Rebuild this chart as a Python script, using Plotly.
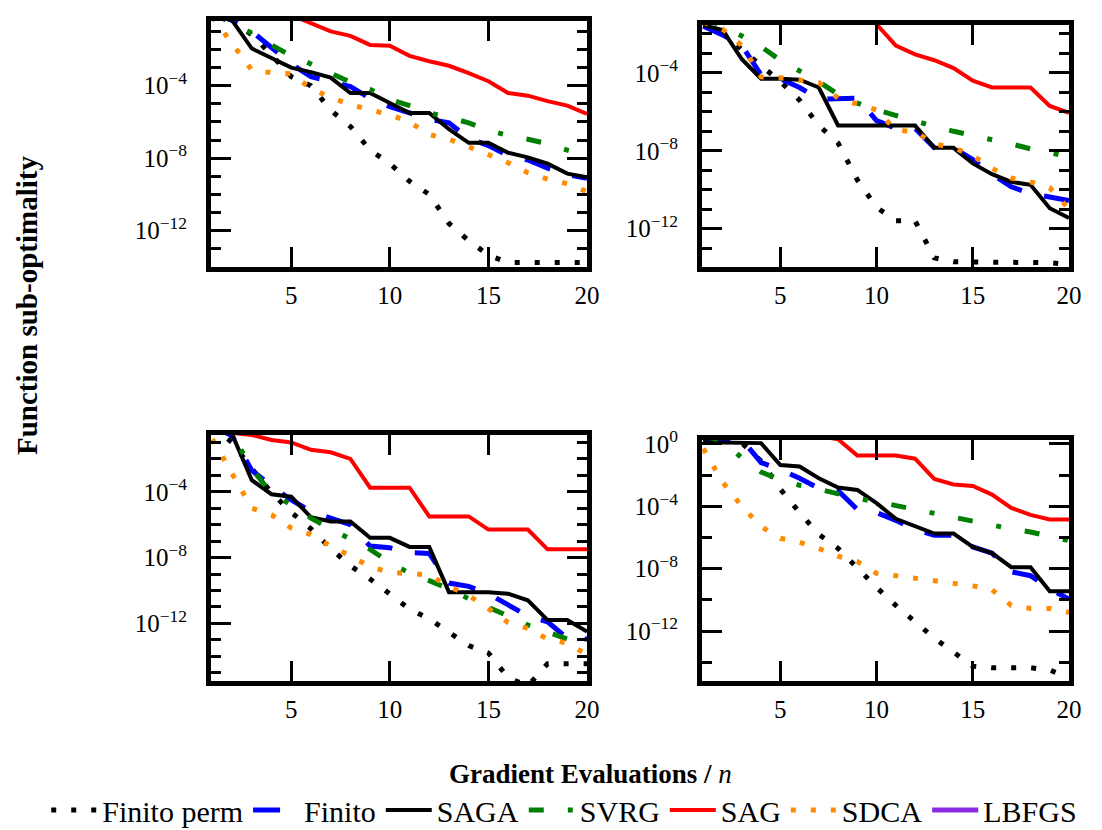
import plotly.graph_objects as go

# ---------------- data (log10 of function sub-optimality) ----------------
x_vals = list(range(1, 21))
series_names = ["Finito perm", "Finito", "SAGA", "SVRG", "SAG", "SDCA", "LBFGS"]

x_tick_vals = [5, 10, 15, 20]
x_tick_text = ["5", "10", "15", "20"]
y_tick_exps = [0, -4, -8, -12]
y_tick_text = ["10<sup>0</sup>", "10<sup>−4</sup>", "10<sup>−8</sup>", "10<sup>−12</sup>"]

# top-left panel
tl_finito_perm = [0, -0.35, -1.2, -2.3, -3.5, -4.0, -5.35, -6.25, -7.55, -8.3, -9.27, -10.0, -11.6, -12.55, -13.35, -13.75, -13.75, -13.75, -13.75, -13.75]
tl_finito = [0, -0.4, -1.0, -1.9, -2.8, -3.5, -3.75, -4.05, -4.7, -5.15, -5.5, -5.85, -6.05, -6.9, -7.3, -7.85, -8.1, -8.55, -8.9, -9.1]
tl_saga = [0, -0.4, -1.95, -2.5, -3.0, -3.25, -3.55, -4.4, -4.4, -4.95, -5.5, -5.5, -6.4, -7.15, -7.15, -7.7, -7.95, -8.3, -8.85, -9.05]
tl_svrg = [0, -0.55, -1.1, -1.75, -2.35, -2.8, -3.3, -3.8, -4.2, -4.75, -5.1, -5.5, -5.75, -6.05, -6.45, -6.75, -6.95, -7.2, -7.55, -7.85]
tl_sag = [0, 0, 0, 0, -0.1, -0.55, -1.0, -1.25, -1.75, -1.8, -2.35, -2.65, -2.9, -3.3, -3.75, -4.4, -4.55, -4.85, -5.1, -5.55]
tl_sdca = [-0.2, -1.65, -3.14, -3.28, -3.35, -4.15, -4.65, -5.05, -5.3, -5.6, -6.0, -6.7, -6.95, -7.35, -7.8, -8.25, -8.8, -9.15, -9.4, -9.85]

# top-right panel
tr_finito_perm = [-1.55, -1.9, -2.8, -3.6, -4.45, -5.4, -6.7, -7.6, -9.5, -10.9, -11.6, -11.6, -13.5, -13.7, -13.7, -13.7, -13.7, -13.7, -13.75, -13.85]
tr_finito = [-1.6, -2.05, -2.6, -4.1, -4.3, -4.75, -5.35, -5.35, -5.3, -6.45, -6.85, -6.85, -7.85, -7.85, -8.45, -9.2, -9.85, -10.2, -10.4, -10.55]
tr_saga = [-1.55, -1.8, -3.3, -4.3, -4.3, -4.35, -4.75, -6.7, -6.7, -6.7, -6.7, -6.7, -7.85, -7.85, -8.65, -9.2, -9.6, -9.75, -10.95, -11.45]
tr_svrg = [-1.2, -1.6, -2.1, -2.65, -3.35, -3.9, -4.45, -5.1, -5.55, -5.9, -6.2, -6.5, -6.75, -7.0, -7.2, -7.45, -7.65, -7.9, -8.1, -8.3]
tr_sag = [0, 0, 0, 0, 0, 0, 0, 0, -0.5, -1.5, -2.6, -3.05, -3.35, -3.75, -4.4, -4.75, -4.75, -4.75, -5.7, -6.05]
tr_sdca = [-1.4, -1.75, -2.6, -4.2, -4.25, -4.4, -4.5, -5.3, -5.6, -5.9, -6.95, -7.0, -7.65, -7.85, -8.25, -8.9, -9.4, -9.6, -9.9, -11.0]

# bottom-left panel
bl_finito_perm = [0, -1.0, -2.6, -4.05, -5.25, -6.25, -7.45, -8.5, -9.3, -10.23, -11.13, -11.72, -12.55, -13.35, -13.8, -15.3, -15.8, -14.45, -14.45, -14.45]
bl_finito = [0, -0.6, -2.7, -3.65, -4.5, -5.2, -5.6, -6.0, -7.3, -7.4, -7.7, -7.75, -9.55, -9.75, -10.2, -10.85, -11.55, -11.9, -12.9, -12.95]
bl_saga = [0, -0.5, -3.3, -4.15, -4.3, -5.55, -5.8, -5.8, -6.8, -6.8, -7.35, -7.35, -10.1, -10.1, -10.1, -10.2, -10.6, -11.8, -11.8, -12.5]
bl_svrg = [0, -0.5, -2.6, -4.1, -4.8, -5.6, -6.25, -6.85, -7.5, -8.3, -8.95, -9.4, -9.9, -10.5, -11.0, -11.55, -12.1, -12.5, -12.95, -13.2]
bl_sag = [-0.3, -0.4, -0.55, -0.85, -1.0, -1.45, -1.6, -2.0, -3.75, -3.75, -3.75, -5.5, -5.5, -5.5, -6.3, -6.3, -6.3, -7.5, -7.5, -7.5]
bl_sdca = [-0.8, -2.95, -5.0, -5.4, -6.2, -6.6, -7.3, -7.9, -8.55, -8.9, -8.95, -9.05, -9.75, -10.3, -11.1, -11.95, -12.3, -12.95, -13.2, -13.9]

# bottom-right panel
br_finito_perm = [0.3, 0.2, 0.05, -1.1, -2.9, -4.4, -5.8, -6.7, -8.0, -9.2, -10.35, -11.4, -12.45, -13.35, -14.25, -14.35, -14.35, -14.35, -14.5, -15.0]
br_finito = [0.3, 0.3, 0.3, -1.2, -1.65, -2.2, -2.85, -3.0, -4.2, -4.4, -4.9, -5.5, -5.85, -5.85, -6.6, -7.0, -8.2, -8.45, -9.3, -9.95]
br_saga = [0.1, 0.1, 0.1, 0.05, -1.35, -1.45, -2.2, -2.8, -2.95, -3.8, -4.8, -5.3, -5.75, -5.75, -6.6, -7.0, -7.9, -7.9, -9.45, -9.45]
br_svrg = [0.5, 0.2, -0.9, -1.8, -2.3, -2.65, -2.9, -3.2, -3.5, -3.7, -3.95, -4.2, -4.45, -4.7, -4.95, -5.25, -5.45, -5.65, -5.9, -6.2]
br_sag = [0.5, 0.5, 0.5, 0.5, 0.5, 0.5, 0.5, 0.3, -0.75, -0.75, -0.75, -0.95, -2.25, -2.6, -2.7, -3.25, -4.1, -4.55, -4.85, -4.85]
br_sdca = [-0.3, -2.45, -4.0, -5.3, -6.05, -6.3, -6.7, -7.2, -7.55, -8.3, -8.45, -8.6, -8.75, -8.9, -9.1, -9.35, -10.35, -10.55, -10.55, -10.8]

# LBFGS has no point inside the plotted ranges (legend entry only)
lbfgs_values = [None]

panels = [
    [tl_finito_perm, tl_finito, tl_saga, tl_svrg, tl_sag, tl_sdca, lbfgs_values],
    [tr_finito_perm, tr_finito, tr_saga, tr_svrg, tr_sag, tr_sdca, lbfgs_values],
    [bl_finito_perm, bl_finito, bl_saga, bl_svrg, bl_sag, bl_sdca, lbfgs_values],
    [br_finito_perm, br_finito, br_saga, br_svrg, br_sag, br_sdca, lbfgs_values],
]

# ---------------- styling ----------------
styles = {
    "Finito perm": dict(color="black", width=5, dash="5px,15px"),
    "Finito": dict(color="#0000ff", width=5, dash="27px,23px"),
    "SAGA": dict(color="black", width=4, dash="solid"),
    "SVRG": dict(color="#008000", width=5, dash="15px,24px,5px,24px"),
    "SAG": dict(color="#ff0000", width=4, dash="solid"),
    "SDCA": dict(color="#ff8c00", width=5, dash="5px,15px"),
    "LBFGS": dict(color="#8a2be2", width=5, dash="solid"),
}

W, H = 1102, 830
# inner plot boxes in pixels: (left, right, top, bottom)
boxes = [(211, 587, 21, 267), (702, 1069, 25, 267), (211, 587, 435, 681), (702, 1069, 440, 681)]
y_ranges = [[-14.0, -0.43], [-13.97, -1.54], [-15.5, -0.55], [-15.2, 0.25]]
minor_steps = [1, 1, 1, 2]
x_range = [0.93, 20]

FONT = "Liberation Serif, Times New Roman, serif"

fig = go.Figure()

for p, series in enumerate(panels):
    sfx = "" if p == 0 else str(p + 1)
    for name, vals in zip(series_names, series):
        yv = [None if v is None else 10 ** v for v in vals]
        fig.add_trace(go.Scatter(
            x=x_vals[:len(vals)], y=yv,
            mode="lines", name=name, legendgroup=name,
            showlegend=(p == 0),
            line=styles[name],
            xaxis="x" + sfx, yaxis="y" + sfx,
        ))

layout = dict(
    width=W, height=H,
    margin=dict(l=0, r=0, t=0, b=0, autoexpand=False),
    paper_bgcolor="white", plot_bgcolor="white",
    font=dict(family=FONT, color="black"),
    legend=dict(orientation="h", x=0.512, xanchor="center", y=1 - 810 / H, yanchor="middle",
                itemwidth=46,
                font=dict(family=FONT, size=30, color="black"), bgcolor="rgba(0,0,0,0)"),
)

for p, (l, r, t, b) in enumerate(boxes):
    sfx = "" if p == 0 else str(p + 1)
    lo, hi = y_ranges[p]
    step = minor_steps[p]
    minor_exps = [e for e in range(0, -17, -step) if e not in y_tick_exps]
    layout["xaxis" + sfx] = dict(
        domain=[l / W, r / W], anchor="y" + sfx, range=x_range,
        tickmode="array", tickvals=x_tick_vals, ticktext=x_tick_text,
        ticks="inside", ticklen=20, tickwidth=3, tickcolor="black",
        showline=True, linewidth=5, linecolor="black", mirror="ticks",
        showgrid=False, zeroline=False, ticklabelstandoff=2,
        tickfont=dict(family=FONT, size=25, color="black"),
    )
    layout["yaxis" + sfx] = dict(
        domain=[1 - b / H, 1 - t / H], anchor="x" + sfx, type="log", range=[lo, hi],
        tickmode="array", tickvals=[10 ** e for e in y_tick_exps], ticktext=y_tick_text,
        ticks="inside", ticklen=20, tickwidth=3, tickcolor="black",
        minor=dict(tickmode="array", tickvals=[10 ** e for e in minor_exps],
                   ticks="inside", ticklen=10, tickwidth=3, tickcolor="black", showgrid=False),
        showline=True, linewidth=5, linecolor="black", mirror="ticks",
        showgrid=False, zeroline=False, ticklabelstandoff=14,
        tickfont=dict(family=FONT, size=25, color="black"),
    )

layout["annotations"] = [
    dict(text="<b>Gradient Evaluations / </b><i>n</i>", x=590 / W, y=1 - 774 / H,
         xref="paper", yref="paper", showarrow=False, xanchor="center", yanchor="middle",
         font=dict(family=FONT, size=27, color="black")),
    dict(text="<b>Function sub-optimality</b>", x=27 / W, y=1 - 306 / H,
         xref="paper", yref="paper", showarrow=False, xanchor="center", yanchor="middle",
         textangle=-90, font=dict(family=FONT, size=29, color="black")),
]

fig.update_layout(**layout)
fig.write_html("out.html")
